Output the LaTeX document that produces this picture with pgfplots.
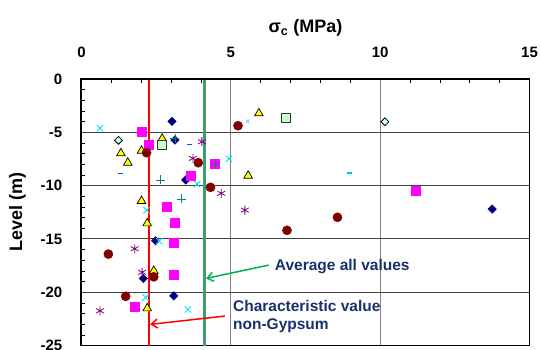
\documentclass[border=0pt]{standalone}
\usepackage{fontspec}
\setmainfont{Liberation Sans}
\usepackage{pgfplots}
\pgfplotsset{compat=1.18}
\usetikzlibrary{arrows.meta}
\definecolor{navyd}{RGB}{0,0,128}
\definecolor{magen}{RGB}{255,0,255}
\definecolor{yell}{RGB}{255,255,0}
\definecolor{cyanx}{RGB}{0,230,240}
\definecolor{purp}{RGB}{128,0,128}
\definecolor{dred}{RGB}{128,0,0}
\definecolor{tealp}{RGB}{0,128,128}
\definecolor{blued}{RGB}{40,60,255}
\definecolor{cyand}{RGB}{0,190,240}
\definecolor{lgreen}{RGB}{204,255,204}
\definecolor{lcyan}{RGB}{204,255,255}
\definecolor{lblue}{RGB}{120,190,255}
\definecolor{avgline}{RGB}{60,160,110}
\definecolor{arrgreen}{RGB}{0,176,80}
\definecolor{txtnavy}{RGB}{24,48,110}
\begin{document}
\begin{tikzpicture}[x=1pt,y=1pt]
\begin{axis}[
  at={(0,0)}, anchor=south west,
  scale only axis, width=448pt, height=266.6pt,
  xmin=0, xmax=15, ymin=-25, ymax=0,
  xtick={0,5,10,15}, xticklabels={0,5,10,15},
  ytick={0,-5,-10,-15,-20,-25}, yticklabels={0,-5,-10,-15,-20,-25},
  minor x tick num=4, minor y tick num=4,
  xtick pos=right, xticklabel pos=right, ytick pos=left,
  major tick length=0pt, minor tick length=4pt,
  minor tick style={black, line width=0.8pt},
  grid=major,
  x grid style={gray, line width=1pt},
  y grid style={black!75, line width=1pt},
  axis line style={black, line width=0.8pt},
  xticklabel style={font=\fontsize{15}{15}\selectfont\bfseries, anchor=base, yshift=21.6pt},
  yticklabel style={font=\fontsize{15}{15}\selectfont\bfseries, anchor=east, inner sep=0pt, xshift=-19pt},
  xlabel={\bfseries σ\textsubscript{\bfseries c} (MPa)},
  ylabel={\bfseries Level (m)},
  every axis x label/.style={at={(axis description cs:0.5,1)}, anchor=center, yshift=51pt, font=\fontsize{18}{18}\selectfont\bfseries},
  every axis y label/.style={at={(axis description cs:0,0.5)}, rotate=90, anchor=center, yshift=64pt, font=\fontsize{18}{18}\selectfont\bfseries},
  clip=false,
]
% vertical reference lines
\addplot[red, line width=2.5pt] coordinates {(2.26,0) (2.26,-25)};
\addplot[avgline, line width=2.5pt] coordinates {(4.11,0) (4.11,-25)};
% yellow triangles
\addplot[only marks, mark=triangle*, mark size=5pt, mark options={fill=yell, draw=black, line width=0.7pt}] coordinates {
(1.32,-6.97) (1.55,-7.85) (2.01,-6.73) (2.70,-5.60) (5.94,-3.22) (5.58,-9.07)
(2.01,-11.44) (2.20,-13.54) (2.42,-18.00) (2.20,-21.51)};
% navy diamonds
\addplot[only marks, mark=square*, mark size=3pt, mark options={rotate=45, fill=navyd, draw=navyd}] coordinates {
(3.03,-3.97) (3.13,-5.72) (3.49,-9.47) (2.48,-15.17) (2.07,-18.70) (3.09,-20.33) (13.75,-12.20)};
% magenta squares
\addplot[only marks, mark=square*, mark size=4.5pt, mark options={fill=magen, draw=magen}] coordinates {
(2.02,-4.94) (2.24,-6.13) (3.66,-9.03) (4.47,-7.97) (11.18,-10.48) (2.85,-11.98)
(3.12,-13.48) (3.10,-15.36) (3.09,-18.32) (1.79,-21.39)};
% cyan x
\addplot[only marks, mark=x, mark size=4.5pt, mark options={draw=cyanx, line width=0.9pt}] coordinates {
(0.62,-4.62) (4.94,-7.48) (3.87,-9.85) (2.18,-12.29) (2.60,-15.20) (2.15,-20.48) (3.56,-21.60)};
% purple asterisks
\addplot[only marks, mark=asterisk, mark size=4.5pt, mark options={draw=purp, line width=0.8pt}] coordinates {
(4.03,-5.88) (3.73,-7.44) (4.68,-10.72) (5.47,-12.29) (1.78,-15.92) (2.03,-18.13) (0.62,-21.74)};
% dark red circles
\addplot[only marks, mark=*, mark size=4.6pt, mark options={fill=dred, draw=dred}] coordinates {
(2.18,-6.91) (3.91,-7.85) (4.32,-10.16) (5.24,-4.38) (0.90,-16.42) (2.42,-18.55)
(1.48,-20.38) (6.88,-14.19) (8.57,-12.97)};
% teal plus
\addplot[only marks, mark=+, mark size=4.5pt, mark options={draw=tealp, line width=0.9pt}] coordinates {
(3.13,-5.60) (2.63,-9.47) (4.47,-7.97) (3.35,-11.25)};
% blue dash
\addplot[only marks, mark=-, mark size=2.5pt, mark options={draw=blued, line width=1.6pt}] coordinates {
(3.63,-6.13) (1.29,-8.88)};
% cyan dash
\addplot[only marks, mark=-, mark size=2.5pt, mark options={draw=cyand, line width=1.6pt}] coordinates {
(8.97,-8.79)};
% light green squares
\addplot[only marks, mark=square*, mark size=4.5pt, mark options={fill=lgreen, draw=black!80, line width=0.8pt}] coordinates {
(2.70,-6.19) (6.84,-3.69)};
% light cyan diamonds
\addplot[only marks, mark=square*, mark size=2.8pt, mark options={rotate=45, fill=lcyan, draw=black, line width=0.8pt}] coordinates {
(1.24,-5.75) (10.16,-4.01)};
% small light blue x
\addplot[only marks, mark=x, mark size=2.5pt, mark options={draw=lblue, line width=0.8pt}] coordinates {
(5.56,-3.97)};
% thick left/top frame
\draw[black, line width=2pt] (rel axis cs:0,0) -- (rel axis cs:0,1) -- (rel axis cs:1,1);
% annotations
\draw[arrgreen, line width=1.5pt, -{Straight Barb[length=6pt,width=9pt]}] (axis cs:6.27,-17.45) -- (axis cs:4.17,-18.70);
\draw[red, line width=1.5pt, -{Straight Barb[length=6pt,width=9pt]}] (axis cs:4.80,-22.23) -- (axis cs:2.30,-23.01);
\node[anchor=west, inner sep=0pt, text=txtnavy, font=\fontsize{15.5}{15.5}\selectfont\bfseries] at (axis cs:6.47,-17.6) {Average all values};
\node[anchor=west, inner sep=0pt, text=txtnavy, align=left, font=\fontsize{15.5}{18}\selectfont\bfseries] at (axis cs:5.07,-22.3) {Characteristic value\\non-Gypsum};
\end{axis}
\pgfresetboundingbox
\path[use as bounding box] (-81.5pt,-3.4pt) rectangle (459.5pt,345.6pt);
\end{tikzpicture}
\end{document}
